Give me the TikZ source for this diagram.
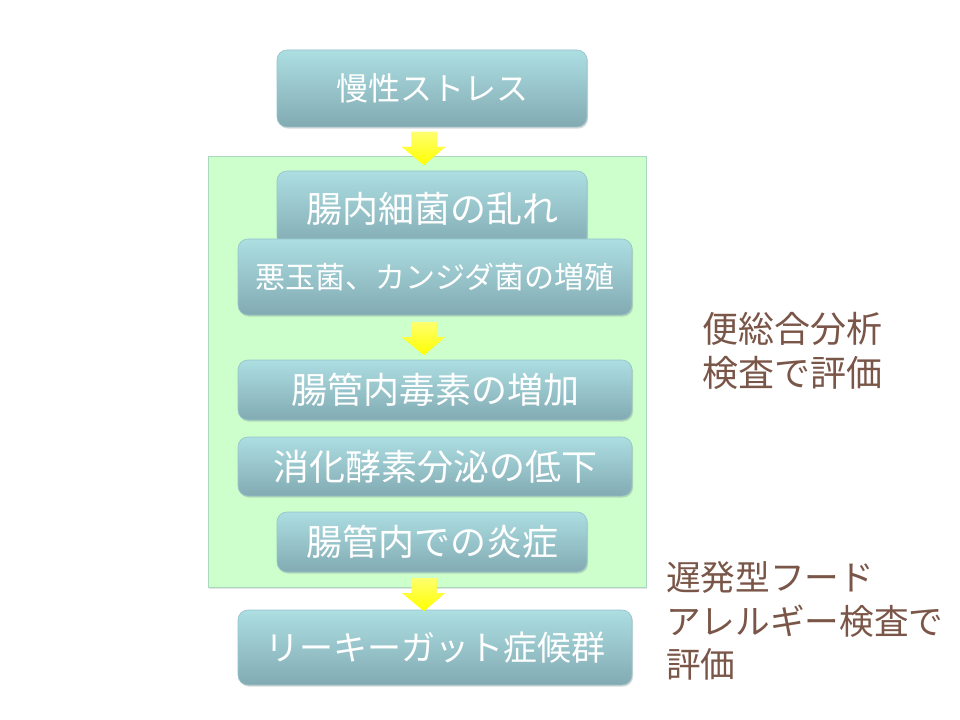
\documentclass[tikz,border=0pt]{standalone}
\usepackage{fontspec}
\setmainfont{Noto Sans CJK JP}
\usetikzlibrary{shadows,calc}
\definecolor{boxtop}{RGB}{172,222,226}
\definecolor{boxbot}{RGB}{130,170,178}
\definecolor{boxedge}{RGB}{150,196,202}
\definecolor{greenfill}{RGB}{204,255,204}
\definecolor{greenedge}{RGB}{170,215,190}
\definecolor{arrowyel}{RGB}{255,255,0}
\definecolor{arrowlt}{RGB}{255,255,110}
\definecolor{sidebrown}{RGB}{122,86,72}
\tikzset{
  flowbox/.style={rectangle, rounded corners=7.5pt, top color=boxtop, bottom color=boxbot,
    draw=boxedge, line width=0.5pt, text=white, inner sep=0pt,
    drop shadow={shadow xshift=0.8pt, shadow yshift=-1.2pt, opacity=0.3}},
  yarrow/.style={fill=arrowyel, draw=none},
  sidetext/.style={text=sidebrown, inner sep=0pt, anchor=west, align=left},
}
\begin{document}
\begin{tikzpicture}[x=0.75pt, y=-0.75pt]
\useasboundingbox (0,0) rectangle (960,720);
\fill[white] (0,0) rectangle (960,720);
% green region
\node[draw=greenedge, fill=greenfill, line width=0.5pt, minimum width=328.5pt, minimum height=323.25pt, inner sep=0pt,
  drop shadow={shadow xshift=0.8pt, shadow yshift=-1.2pt, opacity=0.2}] (grp) at (427,371.5) {};
% boxes
\node[flowbox, minimum width=232.5pt, minimum height=57.75pt, font=\fontsize{24pt}{28pt}\selectfont] (n1) at (432,88.5) {慢性ストレス};
\node[flowbox, minimum width=232.5pt, minimum height=57pt, font=\fontsize{27pt}{31pt}\selectfont] (n2) at (432,209) {腸内細菌の乱れ};
\node[flowbox, minimum width=295.5pt, minimum height=57pt, font=\fontsize{22.5pt}{26pt}\selectfont] (n3) at (435,277) {悪玉菌、カンジダ菌の増殖};
\node[flowbox, minimum width=295.5pt, minimum height=45pt, font=\fontsize{27pt}{31pt}\selectfont] (n4) at (435,390) {腸管内毒素の増加};
\node[flowbox, minimum width=295.5pt, minimum height=44.25pt, font=\fontsize{27pt}{31pt}\selectfont] (n5) at (435,466.5) {消化酵素分泌の低下};
\node[flowbox, minimum width=232.5pt, minimum height=45pt, font=\fontsize{27pt}{31pt}\selectfont] (n6) at (432,542) {腸管内での炎症};
\node[flowbox, minimum width=295.5pt, minimum height=56.25pt, font=\fontsize{25.5pt}{30pt}\selectfont] (n7) at (435,647.5) {リーキーガット症候群};
% arrows (block arrows between nodes)
\coordinate (a1) at (424,132);
\coordinate (a2) at (424,322);
\coordinate (a3) at (424,578);
\foreach \c in {a1,a2,a3}{
  \fill[yarrow, top color=arrowlt, bottom color=arrowyel]
    ($(\c)+(-12.5,0)$) -- ($(\c)+(12.5,0)$) -- ($(\c)+(12.5,15)$) -- ($(\c)+(21,15)$)
    -- ($(\c)+(0,33)$) -- ($(\c)+(-22,15)$) -- ($(\c)+(-12.5,15)$) -- cycle;
}
% side texts
\node[sidetext, font=\fontsize{27pt}{33pt}\selectfont] (s1) at (702,351) {便総合分析\\検査で評価};
\node[sidetext, font=\fontsize{26pt}{32.5pt}\selectfont] (s2) at (666,621) {遅発型フード\\アレルギー検査で\\評価};
\end{tikzpicture}
\end{document}
